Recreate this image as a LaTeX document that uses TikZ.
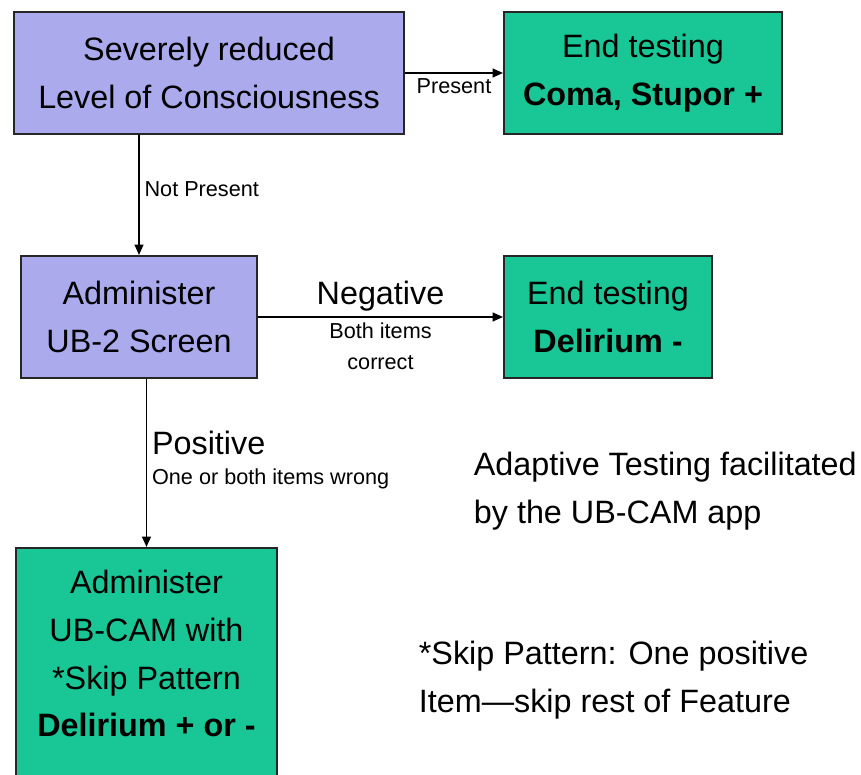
\documentclass[tikz,border=0pt]{standalone}
\usepackage{fontspec}
\setmainfont{Liberation Sans}
\usepackage{xcolor}
\usetikzlibrary{arrows.meta, calc}

\definecolor{boxlav}{RGB}{170,170,236}
\definecolor{boxgreen}{RGB}{24,198,150}
\newcommand{\bigtext}{\fontsize{23}{34}\selectfont}
\newcommand{\smalltext}{\fontsize{15.4}{22}\selectfont}

\begin{document}
\begin{tikzpicture}[
    >={Triangle[length=2.6mm, width=2.2mm]},
    line width=1.3pt,
    lavbox/.style={rectangle, draw=black!85, fill=boxlav, line width=1.4pt, align=center, font=\bigtext},
    greenbox/.style={rectangle, draw=black!85, fill=boxgreen, line width=1.4pt, align=center, font=\bigtext},
    lbl/.style={font=\smalltext, align=center},
    note/.style={anchor=west, align=left, inner sep=0pt, font=\bigtext}
]
    % Slide frame
    \useasboundingbox (0,0) rectangle (21.525,-19.375);
    \clip (0,0) rectangle (21.525,-19.375);

    % Screening boxes
    \node[lavbox, minimum width=9.75cm, minimum height=3.05cm] (loc) at (5.225,-1.825) {Severely reduced\\Level of Consciousness};
    \node[greenbox, minimum width=6.95cm, minimum height=3.05cm] (coma) at (16.075,-1.825) {End testing\\\textbf{Coma, Stupor +}};
    \node[lavbox, minimum width=5.9cm, minimum height=3.05cm] (ubtwo) at (3.475,-7.925) {Administer\\UB-2 Screen};
    \node[greenbox, minimum width=5.2cm, minimum height=3.05cm] (delneg) at (15.2,-7.925) {End testing\\\textbf{Delirium -}};

    % UB-CAM box runs off the bottom of the slide
    \node[greenbox, minimum width=6.525cm, minimum height=6.1cm] (ubcam) at (3.6625,-16.75) {};
    \node[align=center, font=\bigtext] (ubcamtxt) at (3.6625,-16.34) {Administer\\UB-CAM with\\*Skip Pattern\\\textbf{Delirium + or -}};

    % Connectors
    \draw[->] (loc.east) -- node[below, lbl] {Present} (coma.west);
    \draw[->] (loc.south -| ubtwo) -- node[right, lbl, pos=0.45] {Not Present} (ubtwo.north);
    \draw[->] (ubtwo.east) -- node[above, font=\bigtext] {Negative}
        node[below, lbl] {Both items\\correct} (delneg.west);
    \draw[->] (ubtwo.south -| ubcam) -- node[above right, font=\bigtext, yshift=2pt] {Positive}
        node[below right, lbl] {One or both items wrong} (ubcam.north);

    % Side notes
    \node[note] (apptxt) at (11.825,-12.275) {Adaptive Testing facilitated\\by the UB-CAM app};
    \node[note] (skiptxt) at (10.45,-17.0) {*Skip Pattern: One positive\\Item—skip rest of Feature};
\end{tikzpicture}
\end{document}
